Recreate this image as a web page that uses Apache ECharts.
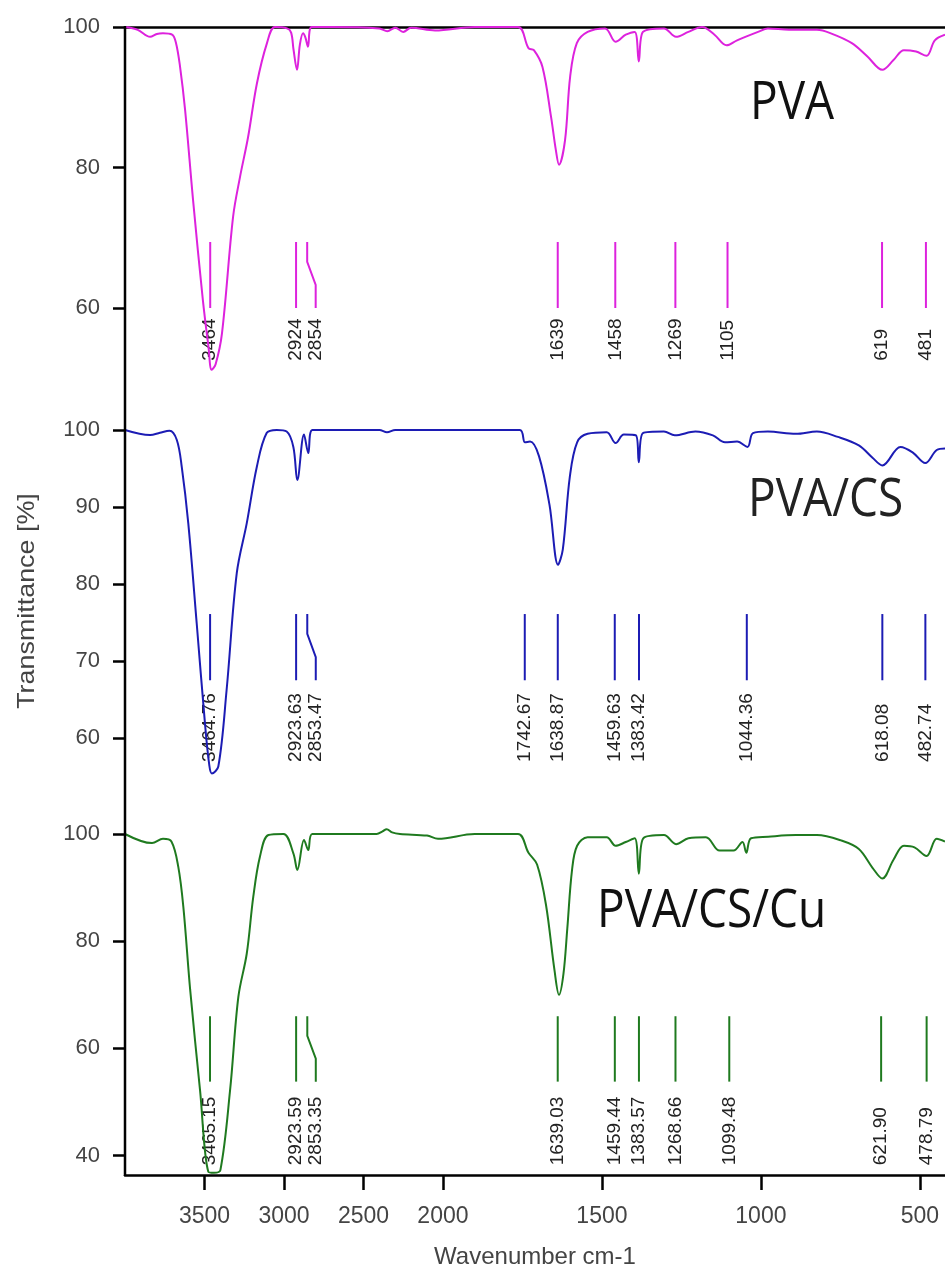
<!DOCTYPE html>
<html>
<head>
<meta charset="utf-8">
<script src="https://cdn.jsdelivr.net/npm/echarts@6/dist/echarts.min.js"></script>
<style>
  html, body { margin: 0; padding: 0; background: #fff; }
  #main { width: 945px; height: 1270px; }
</style>
</head>
<body>
<div id="main"></div>
<script>
// FTIR spectra, wavenumber (cm-1) and transmittance (%)
const pvaWave = [4000, 3920, 3842, 3800, 3761, 3704, 3680, 3654, 3622, 3572, 3510, 3475, 3455, 3430, 3390, 3320, 3277, 3226, 3170, 3107, 3057, 2981, 2955, 2940, 2918, 2900, 2880, 2865, 2849, 2826, 2700, 2400, 2350, 2300, 2250, 2200, 2050, 1900, 1764, 1731, 1714, 1687, 1660, 1645, 1635, 1616, 1600, 1579, 1545, 1490, 1457, 1425, 1397, 1384, 1371, 1305, 1267, 1228, 1185, 1146, 1108, 1075, 1009, 978, 912, 824, 780, 714, 665, 618, 583, 550, 512, 479, 453, 421]
const pvaT = [100, 99.6, 98.6, 99.0, 99.1, 98.9, 97.8, 94.4, 88.2, 75.4, 61.1, 54.5, 51.2, 52.0, 56.4, 73.0, 78.6, 84.3, 92.0, 97.7, 100, 99.8, 99.2, 96.8, 93.9, 97.5, 99.1, 98.5, 97.2, 100, 100, 99.8, 99.4, 99.9, 99.3, 99.9, 99.5, 100, 100, 97.0, 96.7, 94.3, 87.2, 82.5, 80.4, 83.9, 92.9, 97.7, 99.3, 99.8, 97.9, 98.9, 99.3, 95.1, 99.3, 99.8, 98.6, 99.3, 100, 98.9, 97.4, 98.1, 99.3, 99.8, 99.6, 99.6, 99.1, 97.7, 95.8, 93.9, 95.3, 96.7, 96.5, 95.9, 98.1, 98.9]

const csWave = [4000, 3842, 3780, 3720, 3674, 3643, 3602, 3549, 3497, 3470, 3454, 3413, 3361, 3297, 3234, 3171, 3109, 3045, 2983, 2941, 2916, 2874, 2847, 2822, 2400, 2352, 2300, 2000, 1758, 1742, 1726, 1698, 1665, 1638, 1623, 1601, 1578, 1545, 1485, 1457, 1431, 1393, 1384, 1371, 1305, 1271, 1206, 1151, 1113, 1075, 1042, 1025, 978, 890, 824, 758, 692, 649, 618, 561, 523, 483, 447, 421]
const csT = [100, 99.35, 99.65, 99.9, 98.7, 95.2, 87.9, 74.9, 61.9, 56.5, 55.4, 56.3, 66.2, 81.4, 87.9, 95.2, 99.6, 100, 99.8, 97.8, 93.5, 99.4, 97.0, 100, 100, 99.7, 100, 100, 100, 98.4, 98.5, 96.6, 90.3, 82.5, 84.5, 93.9, 98.4, 99.5, 99.7, 98.3, 99.4, 99.3, 95.8, 99.6, 99.8, 99.3, 99.8, 99.3, 98.4, 98.5, 97.8, 99.6, 99.8, 99.5, 99.8, 99.1, 98.0, 96.4, 95.4, 97.8, 97.1, 95.7, 97.4, 97.6]

const cuWave = [4000, 3830, 3761, 3708, 3665, 3633, 3590, 3528, 3476, 3440, 3400, 3339, 3287, 3234, 3193, 3151, 3098, 3003, 2941, 2916, 2874, 2847, 2822, 2417, 2380, 2354, 2320, 2270, 2100, 2031, 1900, 1764, 1731, 1704, 1676, 1649, 1635, 1621, 1609, 1594, 1578, 1545, 1485, 1457, 1425, 1397, 1384, 1370, 1305, 1267, 1228, 1173, 1130, 1086, 1058, 1046, 1031, 977, 890, 824, 748, 692, 649, 618, 583, 550, 517, 479, 447, 421]
const cuT = [100, 98.3, 99.1, 98.6, 93.9, 86.4, 70.9, 52.2, 37.0, 36.8, 37.3, 52.2, 69.6, 77.7, 88.3, 95.8, 99.8, 100, 96.4, 93.3, 98.9, 97.0, 100, 100, 100.5, 100.9, 100.3, 100, 99.7, 99.1, 100, 100, 96.5, 94.3, 86.8, 74.5, 70.0, 73.9, 82.3, 93.3, 97.8, 99.4, 99.4, 97.8, 98.5, 99.2, 92.6, 99.2, 99.8, 98.1, 99.2, 99.4, 96.9, 96.9, 98.5, 96.5, 99.2, 99.5, 99.8, 99.8, 98.8, 97.2, 93.7, 91.7, 95.2, 97.8, 97.5, 95.9, 99.1, 98.6]

// labelled peak positions
const pvaPeaks = [3464, 2924, 2854, 1639, 1458, 1269, 1105, 619, 481]
const csPeaks = [3464.76, 2923.63, 2853.47, 1742.67, 1638.87, 1459.63, 1383.42, 1044.36, 618.08, 482.74]
const cuPeaks = [3465.15, 2923.59, 2853.35, 1639.03, 1459.44, 1383.57, 1268.66, 1099.48, 621.90, 478.79]

// tick labels
const xTicks = [3500, 3000, 2500, 2000, 1500, 1000, 500]
const pvaYTicks = [60, 80, 100]
const csYTicks = [60, 70, 80, 90, 100]
const cuYTicks = [40, 60, 80, 100]

// above 2000 cm-1 the original axis runs at half scale
const toAxis = w => (w <= 2000 ? w : 2000 + (w - 2000) / 2)
const fromAxis = p => (p <= 2000 ? p : 2000 + (p - 2000) * 2)

const labelFont = 'Liberation Sans'
const black = '#000'

function xAxisFor (gridIndex, bottom) {
  return {
    type: 'value',
    gridIndex: gridIndex,
    inverse: true,
    min: toAxis(421),
    max: toAxis(4000),
    position: 'bottom',
    splitLine: { show: false },
    axisLine: { show: bottom, onZero: false, lineStyle: { color: black, width: 2.5 } },
    axisTick: { show: bottom, customValues: xTicks.map(toAxis), length: 15, lineStyle: { color: black, width: 2.5 } },
    axisLabel: {
      show: bottom,
      customValues: xTicks.map(toAxis),
      margin: 30,
      color: '#444',
      fontSize: 23,
      fontFamily: labelFont,
      formatter: v => String(Math.round(fromAxis(v)))
    },
    name: bottom ? 'Wavenumber cm-1' : '',
    nameLocation: 'middle',
    nameGap: 70,
    nameTextStyle: { color: '#444', fontSize: 24, fontFamily: labelFont }
  }
}

// the three panels share one left spine, drawn below as a single line
function yAxisFor (gridIndex, min, max, ticks) {
  return {
    type: 'value',
    gridIndex: gridIndex,
    min: min,
    max: max,
    splitLine: { show: false },
    axisLine: { show: false },
    axisTick: { show: true, customValues: ticks, length: 12, lineStyle: { color: black, width: 2.5 } },
    axisLabel: { customValues: ticks, margin: 25, color: '#444', fontSize: 22, fontFamily: labelFont }
  }
}

function spectrum (name, wave, t, idx, color) {
  return {
    name: name,
    type: 'line',
    xAxisIndex: idx,
    yAxisIndex: idx,
    data: wave.map((w, i) => [toAxis(w), t[i]]),
    showSymbol: false,
    smooth: 0.35,
    lineStyle: { color: color, width: 2 },
    z: 3
  }
}

// vertical peak markers with rotated labels; crowded labels get a bent leader line
function markers (peaks, idx, color, geo, decimals) {
  return {
    type: 'custom',
    xAxisIndex: idx,
    yAxisIndex: idx,
    silent: true,
    data: peaks.map(w => [toAxis(w), w]),
    renderItem: (params, api) => {
      const i = params.dataIndex
      const p = api.value(0)
      const top = api.coord([p, geo.top])
      const bottom = api.coord([p, geo.bottom])
      const base = api.coord([p, geo.label])
      let shift = 0
      if (i > 0) {
        const prev = api.coord([toAxis(peaks[i - 1]), geo.top])
        if (top[0] - prev[0] < 14) shift = 8.5
      }
      const len = bottom[1] - top[1]
      const pts = shift
        ? [[top[0], top[1]], [top[0], top[1] + len * 0.3], [top[0] + shift, top[1] + len * 0.65], [top[0] + shift, bottom[1]]]
        : [top, bottom]
      const w = api.value(1)
      return {
        type: 'group',
        children: [
          { type: 'polyline', shape: { points: pts }, style: { stroke: color, lineWidth: 2, fill: 'none' } },
          {
            type: 'text',
            x: top[0] + shift,
            y: base[1],
            rotation: Math.PI / 2,
            style: {
              text: decimals ? w.toFixed(2) : String(w),
              fill: '#222',
              fontSize: 19,
              fontFamily: labelFont,
              align: 'left',
              verticalAlign: 'middle'
            }
          }
        ]
      }
    }
  }
}

const pvaColor = '#dd22dd'
const csColor = '#1c1cb4'
const cuColor = '#1f7a1f'

const chart = echarts.init(document.getElementById('main'))
chart.setOption({
  animation: false,
  backgroundColor: '#fff',
  grid: [
    { left: 125, right: 0, top: 27, height: 351 },
    { left: 125, right: 0, top: 378, height: 407 },
    { left: 125, right: 0, top: 785, height: 390 }
  ],
  xAxis: [
    xAxisFor(0, false),
    xAxisFor(1, false),
    xAxisFor(2, true),
    // top frame line
    {
      type: 'value', gridIndex: 0, inverse: true, position: 'top',
      min: toAxis(421), max: toAxis(4000),
      splitLine: { show: false }, axisTick: { show: false }, axisLabel: { show: false },
      axisLine: { show: true, onZero: false, lineStyle: { color: black, width: 2.5 } }
    }
  ],
  yAxis: [
    yAxisFor(0, 50.04, 100, pvaYTicks),
    yAxisFor(1, 53.9, 106.75, csYTicks),
    yAxisFor(2, 36.38, 109.14, cuYTicks)
  ],
  series: [
    spectrum('PVA', pvaWave, pvaT, 0, pvaColor),
    spectrum('PVA/CS', csWave, csT, 1, csColor),
    spectrum('PVA/CS/Cu', cuWave, cuT, 2, cuColor),
    markers(pvaPeaks, 0, pvaColor, { top: 69.4, bottom: 60, label: 52.5 }, false),
    markers(csPeaks, 1, csColor, { top: 76.1, bottom: 67.5, label: 56.9 }, true),
    markers(cuPeaks, 2, cuColor, { top: 66.0, bottom: 53.8, label: 38.2 }, true)
  ],
  graphic: [
    {
      type: 'line', z: 10,
      shape: { x1: 125, y1: 26, x2: 125, y2: 1176 },
      style: { stroke: black, lineWidth: 2.5 }
    },
    {
      type: 'text', x: 27, y: 601, rotation: Math.PI / 2, scaleX: 1.12,
      style: { text: 'Transmittance [%]', fill: '#444', fontSize: 24, fontFamily: labelFont, align: 'center', verticalAlign: 'middle' }
    },
    {
      type: 'text', x: 750, y: 104, scaleY: 1.17,
      style: { text: 'PVA', fill: '#111', fontSize: 46, fontFamily: 'Open Sans', align: 'left', verticalAlign: 'middle' }
    },
    {
      type: 'text', x: 748, y: 501, scaleY: 1.17,
      style: { text: 'PVA/CS', fill: '#222', fontSize: 46, fontFamily: 'Open Sans', align: 'left', verticalAlign: 'middle' }
    },
    {
      type: 'text', x: 597, y: 912, scaleY: 1.17,
      style: { text: 'PVA/CS/Cu', fill: '#111', fontSize: 46, fontFamily: 'Open Sans', align: 'left', verticalAlign: 'middle' }
    }
  ]
})
</script>
</body>
</html>
